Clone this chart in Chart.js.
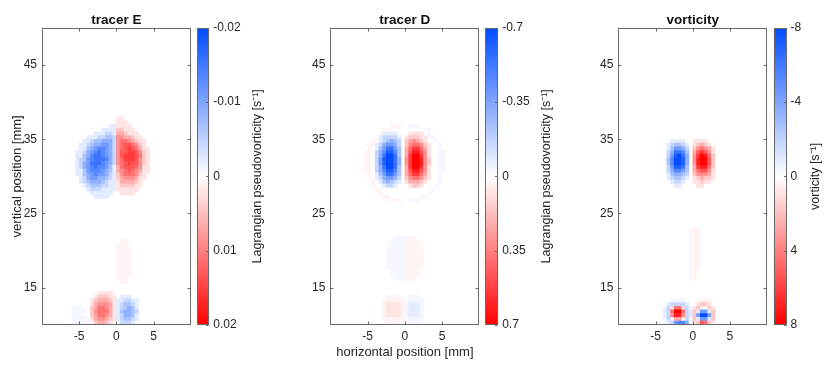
<!DOCTYPE html>
<html><head><meta charset="utf-8">
<script src="https://cdn.jsdelivr.net/npm/chart.js@4.4.1/dist/chart.umd.min.js"></script>
<style>
html,body{margin:0;padding:0;background:#fff;}
#fig{position:relative;width:830px;height:366px;overflow:hidden;background:#fff;}
</style></head><body><div id="fig"></div>
<script>
// ---------------- data ----------------
const X_TICKS = [-5, 0, 5];
const Y_TICKS = [15, 25, 35, 45];
const X_MIN = -10, X_MAX = 10;
const Y_MIN = 10, Y_MAX = 50;
const PANEL_TITLES = ['tracer E', 'tracer D', 'vorticity'];
const X_LABEL = 'horizontal position [mm]';
const Y_LABEL = 'vertical position [mm]';
const CB_LABELS = ['Lagrangian pseudovorticity [s\u207B\u00B9]', 'Lagrangian pseudovorticity [s\u207B\u00B9]', 'vorticity [s\u207B\u00B9]'];
const CB_LIMIT_E = 0.02, CB_LIMIT_D = 0.7, CB_LIMIT_W = 8;
const CB_TICKS_E = [-0.02, -0.01, 0, 0.01, 0.02];
const CB_TICKS_D = [-0.7, -0.35, 0, 0.35, 0.7];
const CB_TICKS_W = [-8, -4, 0, 4, 8];
const CB_TICK_LABELS_E = ['-0.02', '-0.01', '0', '0.01', '0.02'];
const CB_TICK_LABELS_D = ['-0.7', '-0.35', '0', '0.35', '0.7'];
const CB_TICK_LABELS_W = ['-8', '-4', '0', '4', '8'];

// cell grid of the fields (mm), 0.5 mm cells
const CELL_SIZE = 0.5;
const CELL_X = [-5.75, -5.25, -4.75, -4.25, -3.75, -3.25, -2.75, -2.25, -1.75, -1.25, -0.75, -0.25,
                0.25, 0.75, 1.25, 1.75, 2.25, 2.75, 3.25, 3.75, 4.25, 4.75, 5.25, 5.75];
const CELL_Y = [39.75, 39.25, 38.75, 38.25, 37.75, 37.25, 36.75, 36.25, 35.75, 35.25,
                34.75, 34.25, 33.75, 33.25, 32.75, 32.25, 31.75, 31.25, 30.75, 30.25,
                29.75, 29.25, 28.75, 28.25, 27.75, 27.25, 26.75, 26.25, 25.75, 25.25,
                24.75, 24.25, 23.75, 23.25, 22.75, 22.25, 21.75, 21.25, 20.75, 20.25,
                19.75, 19.25, 18.75, 18.25, 17.75, 17.25, 16.75, 16.25, 15.75, 15.25,
                14.75, 14.25, 13.75, 13.25, 12.75, 12.25, 11.75, 11.25, 10.75, 10.25];
// field levels, in ninths of the colour limit:
// '.'=0, '1'..'9' positive, 'a'..'i' = -1..-9, '+' / '-' = faint +-0.4
const LEVEL_STEPS = 9;
const TRACER_E = [
  '', '', '', '',
  '............11',
  '............111',
  '..........aa1111',
  '........aaaa22111',
  '......aaabba332111',
  '....aaabbccb4433211',
  '...aabccdddb45543211',
  '..aabcddeedb45665421',
  '..aacdeffedb456765311',
  '.aabdefgfedb466776421',
  '.aacdfggfedb467776521',
  '.abcefgggfdb457776421',
  '.abdegggfedb456766421',
  '.abdefgffeca356665411',
  '.aacefffedca345654311',
  '.aacdefeedba24555421',
  '..abdeeddcba23444311',
  '..abcdddcbaa1333321',
  '...abcccbbaa1222211',
  '....abbbaaaa111111',
  '.....aaaaaa..1111',
  '......aaaa',
  '', '', '', '', '', '', '', '', '', '', '',
  '.............++',
  '............+++',
  '............++++',
  '............++++',
  '............++++',
  '............++++',
  '............++++',
  '............++++',
  '............++++',
  '............++++',
  '............+++',
  '.............++',
  '', '',
  '.......1111',
  '......122211.aaa',
  '.....1233321aabbaa',
  '.....1344431abccba',
  '---..2355431abcdca',
  '----.2455531acddcb',
  '---..2355431abddca',
  '-----1344321abccba',
  '-----.23321..bbba'
];
const TRACER_D = [
  '', '', '', '', '', '',
  '........+++..---',
  '......++.........--',
  '.....+aaaa...1111.-',
  '....+abbbba.122211.-',
  '...+.abcdcb.234321..-',
  '..++abdeedb.2455421..-',
  '..+.aceggec.3577531..-',
  '.++.bdfhhfc.3688641..--',
  '.++.bdgiigc.3799741..--',
  '.++.behiigd.4799842..--',
  '.++.behiigd.4799842..--',
  '.++.bdgiigc.3799741..--',
  '.++.bdfhhfc.3688641..--',
  '..+.aceggec.3577531..-',
  '..+.abdeedb.2455421..-',
  '...+.acdcba.133321...-',
  '...+..abba...1221...-',
  '....+..............-',
  '.....+............-',
  '......++........--',
  '........+++..---',
  '', '', '', '', '', '', '', '', '',
  '.........---+++',
  '........----++++',
  '........----++++',
  '.......-----+++++',
  '.......-----+++++',
  '.......-----+++++',
  '.......-----+++++',
  '.......-----+++++',
  '.......-----+++++',
  '........----++++',
  '........----++++',
  '.........---+++',
  '', '', '', '',
  '.......++++..---',
  '......++++++-----',
  '......+1111+-aaa-',
  '......+1111+-aaa-',
  '......+1111+-aaa-',
  '......+1111+-aaa-',
  '......++++++-----',
  '.......++++..---'
];
const VORTICITY = [
  '', '', '', '', '', '', '', '', '', '',
  '......aaaa..1111',
  '.....abccba.12321',
  '.....aceedb.245431',
  '.....bdggfc.367641',
  '.....behigd.479852',
  '.....cfiihd.489962',
  '.....cfiihd.489962',
  '.....behhgc.378852',
  '.....bdffec.356641',
  '.....acddcb.244431',
  '.....abccba.123221',
  '......abba..11211',
  '.......aa....11',
  '', '', '', '',
  '', '', '', '', '', '', '',
  '...........-++',
  '...........-++',
  '...........-++',
  '...........-++',
  '...........-++',
  '...........-++',
  '...........-++',
  '...........-++',
  '...........-++',
  '...........-++',
  '...........-++',
  '...........-+',
  '...........-+',
  '...........-+',
  '', '', '', '', '',
  '......----...++++',
  '.....abbbba..1221',
  '....-b1551b-12..21',
  '....ab5995ba2aeea2',
  '....ab4884ba2eiie2',
  '....-b.33.b-2aeea2',
  '.....abeffd-126521'
];

// ---------------- styling / layout ----------------
const FONT = "'Liberation Sans', Arial, Helvetica, sans-serif";
const TEXT_COLOR = '#262626';
const AXIS_COLOR = 'rgb(105,105,105)';
const NEG_RGB = [0, 75, 255];
const POS_RGB = [255, 0, 0];
const TICK_FONT = { family: FONT, size: 12 };
const LABEL_FONT = { family: FONT, size: 13 };
const CB_LABEL_FONT_SIZE = 12.5;
const TITLE_FONT = { family: FONT, size: 13.5, weight: 'bold' };
const H = 366;
const PLOT_TOP = 28, PLOT_BOTTOM = 324.7;
const PANELS = [
  { canvasLeft: 0,   plotLeft: 42,    plotRight: 190.7, cbCanvasLeft: 190, cbCanvasW: 90, cbLeft: 197,   cbRight: 209.3, cbLabelGap: 16.5 },
  { canvasLeft: 288, plotLeft: 330.4, plotRight: 479.3, cbCanvasLeft: 478, cbCanvasW: 90, cbLeft: 485,   cbRight: 498.2, cbLabelGap: 16.5 },
  { canvasLeft: 576, plotLeft: 618.4, plotRight: 767.1, cbCanvasLeft: 767, cbCanvasW: 63, cbLeft: 773.7, cbRight: 786.6, cbLabelGap: 14.5 }
];
const CANVAS_W = 200;

Chart.defaults.font.family = FONT;

function levelOf(ch) {
  if (!ch || ch === '.') return 0;
  if (ch === '+') return 0.4;
  if (ch === '-') return -0.4;
  if (ch >= '1' && ch <= '9') return +ch;
  return -(ch.charCodeAt(0) - 96);
}
function colorFor(t) {
  t = Math.max(-1, Math.min(1, t));
  const c = t < 0 ? NEG_RGB : POS_RGB, s = Math.abs(t);
  const r = Math.round(255 + (c[0] - 255) * s), g = Math.round(255 + (c[1] - 255) * s), b = Math.round(255 + (c[2] - 255) * s);
  return `rgb(${r},${g},${b})`;
}
function cellsOf(rows, limit) {
  const pts = [];
  rows.forEach((row, j) => {
    for (let i = 0; i < CELL_X.length; i++) {
      const lv = levelOf(row[i]);
      if (lv !== 0) pts.push({ x: CELL_X[i], y: CELL_Y[j], v: lv / LEVEL_STEPS * limit });
    }
  });
  return pts;
}
function addCanvas(left, width) {
  const c = document.createElement('canvas');
  c.width = width; c.height = H;
  c.style.cssText = `position:absolute;left:${left}px;top:0;width:${width}px;height:${H}px;`;
  document.getElementById('fig').appendChild(c);
  return c;
}

const framePlugin = {
  id: 'frame',
  afterDraw(chart) {
    const { ctx, chartArea: a, scales } = chart;
    const L = Math.round(a.left) + 0.5, R = Math.round(a.right) - 0.5;
    const T = Math.round(a.top) + 0.5, B = Math.round(a.bottom) - 0.5;
    ctx.save();
    ctx.strokeStyle = AXIS_COLOR; ctx.lineWidth = 1;
    ctx.strokeRect(L, T, R - L, B - T);
    ctx.beginPath();
    scales.x.ticks.forEach(t => {
      const px = Math.round(scales.x.getPixelForValue(t.value)) + 0.5;
      ctx.moveTo(px, B); ctx.lineTo(px, B - 3);
      ctx.moveTo(px, T); ctx.lineTo(px, T + 3);
    });
    scales.y.ticks.forEach(t => {
      const py = Math.round(scales.y.getPixelForValue(t.value)) + 0.5;
      ctx.moveTo(L, py); ctx.lineTo(L + 3, py);
      ctx.moveTo(R, py); ctx.lineTo(R - 3, py);
    });
    ctx.stroke();
    ctx.restore();
  }
};

function makeHeatmap(k, rows, limit, showX, showY) {
  const P = PANELS[k];
  const canvas = addCanvas(P.canvasLeft, CANVAS_W);
  return new Chart(canvas, {
    type: 'scatter',
    data: { datasets: [{
      data: cellsOf(rows, limit),
      pointStyle: 'rect',
      borderWidth: 0,
      clip: 0,
      backgroundColor: c => colorFor(c.raw ? c.raw.v / limit : 0),
      pointRadius: c => {
        const xs = c.chart.scales.x;
        const s = Math.abs(xs.getPixelForValue(CELL_SIZE) - xs.getPixelForValue(0));
        return (s + 0.5) * Math.SQRT1_2;
      }
    }] },
    options: {
      responsive: false, animation: false, events: [],
      layout: { padding: { left: 0, right: P.canvasLeft + CANVAS_W - P.plotRight, top: 0, bottom: 0 } },
      plugins: {
        legend: { display: false }, tooltip: { enabled: false },
        title: { display: true, text: PANEL_TITLES[k], font: TITLE_FONT, color: '#111', fullSize: false, padding: { top: 11.8, bottom: 0 } }
      },
      scales: {
        x: {
          type: 'linear', min: X_MIN, max: X_MAX,
          afterBuildTicks: s => { s.ticks = X_TICKS.map(v => ({ value: v })); },
          afterFit: s => { s.height = H - PLOT_BOTTOM; },
          grid: { display: false, drawTicks: false }, border: { display: false },
          ticks: { font: TICK_FONT, color: TEXT_COLOR, padding: 5, maxRotation: 0, autoSkip: false, callback: v => String(v) },
          title: { display: showX, text: X_LABEL, font: LABEL_FONT, color: TEXT_COLOR, padding: { top: 0, bottom: 5.7 } }
        },
        y: {
          type: 'linear', min: Y_MIN, max: Y_MAX,
          afterBuildTicks: s => { s.ticks = Y_TICKS.map(v => ({ value: v })); },
          afterFit: s => { s.width = P.plotLeft - P.canvasLeft; },
          grid: { display: false, drawTicks: false }, border: { display: false },
          ticks: { font: TICK_FONT, color: TEXT_COLOR, padding: 5, autoSkip: false, callback: v => String(v) },
          title: { display: showY, text: Y_LABEL, font: LABEL_FONT, color: TEXT_COLOR, padding: { top: 9.2, bottom: 0 } }
        }
      }
    },
    plugins: [framePlugin]
  });
}

function makeColorbar(k, limit, ticks, tickLabels) {
  const P = PANELS[k];
  const canvas = addCanvas(P.cbCanvasLeft, P.cbCanvasW);
  const padL = P.cbLeft - P.cbCanvasLeft;
  const cbW = P.cbRight - P.cbLeft;
  const cbPlugin = {
    id: 'cbFrame',
    afterDraw(chart) {
      const { ctx, chartArea: a, scales } = chart;
      const L = Math.round(a.left) + 0.5, R = Math.round(a.right) - 0.5;
      const T = Math.round(a.top) + 0.5, B = Math.round(a.bottom) - 0.5;
      ctx.save();
      ctx.strokeStyle = AXIS_COLOR; ctx.lineWidth = 1;
      ctx.strokeRect(L, T, R - L, B - T);
      ctx.beginPath();
      scales.y.ticks.forEach(t => {
        const py = Math.round(scales.y.getPixelForValue(t.value)) + 0.5;
        ctx.moveTo(R, py); ctx.lineTo(R - 2.5, py);
      });
      ctx.stroke();
      ctx.font = `${TICK_FONT.size}px ${FONT}`;
      const maxW = Math.max(...tickLabels.map(s => ctx.measureText(s).width));
      const x = a.right + 4 + maxW + P.cbLabelGap;
      const y = (a.top + a.bottom) / 2;
      ctx.font = `${CB_LABEL_FONT_SIZE}px ${FONT}`;
      ctx.fillStyle = TEXT_COLOR;
      ctx.translate(x, y); ctx.rotate(-Math.PI / 2);
      ctx.textAlign = 'center'; ctx.textBaseline = 'middle';
      ctx.fillText(CB_LABELS[k], 0, 0);
      ctx.restore();
    }
  };
  return new Chart(canvas, {
    type: 'bar',
    data: { labels: [''], datasets: [{
      data: [[-limit, limit]],
      borderWidth: 0, inflateAmount: 0,
      barPercentage: 1, categoryPercentage: 1,
      backgroundColor: c => {
        const ca = c.chart.chartArea;
        if (!ca) return '#fff';
        const g = c.chart.ctx.createLinearGradient(0, ca.top, 0, ca.bottom);
        for (let s = 0; s <= 40; s++) g.addColorStop(s / 40, colorFor(-1 + 2 * s / 40));
        return g;
      }
    }] },
    options: {
      responsive: false, animation: false, events: [],
      layout: { padding: { left: padL, right: 0, top: PLOT_TOP, bottom: H - PLOT_BOTTOM } },
      plugins: { legend: { display: false }, tooltip: { enabled: false }, title: { display: false } },
      scales: {
        x: { display: false },
        y: {
          position: 'right', min: -limit, max: limit, reverse: true,
          afterBuildTicks: s => { s.ticks = ticks.map(v => ({ value: v })); },
          afterFit: s => { s.width = P.cbCanvasW - padL - cbW; },
          grid: { display: false, drawTicks: false }, border: { display: false },
          ticks: { font: TICK_FONT, color: TEXT_COLOR, padding: 4, autoSkip: false,
                   callback: v => tickLabels[ticks.indexOf(v)] }
        }
      }
    },
    plugins: [cbPlugin]
  });
}

makeHeatmap(0, TRACER_E, CB_LIMIT_E, false, true);
makeHeatmap(1, TRACER_D, CB_LIMIT_D, true, false);
makeHeatmap(2, VORTICITY, CB_LIMIT_W, false, false);
makeColorbar(0, CB_LIMIT_E, CB_TICKS_E, CB_TICK_LABELS_E);
makeColorbar(1, CB_LIMIT_D, CB_TICKS_D, CB_TICK_LABELS_D);
makeColorbar(2, CB_LIMIT_W, CB_TICKS_W, CB_TICK_LABELS_W);
</script></body></html>
